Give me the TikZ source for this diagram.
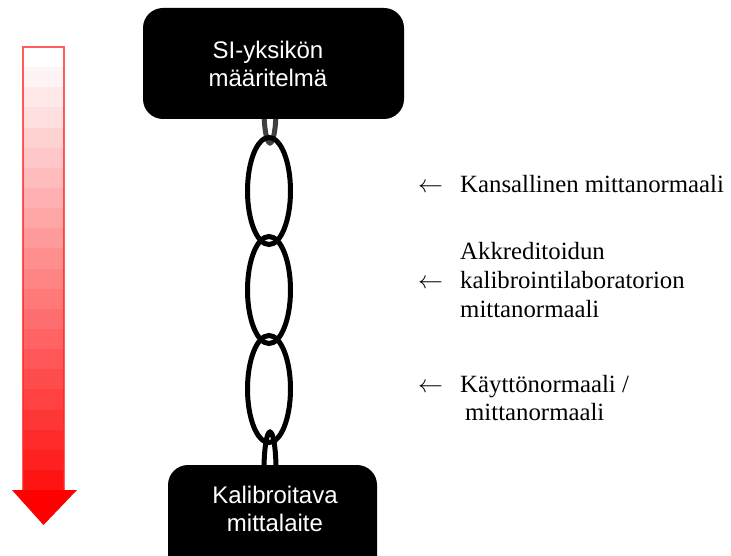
\documentclass[tikz,border=0pt]{standalone}
\usepackage{fontspec}
\setmainfont{Liberation Serif}
\newfontfamily\arialf{Liberation Sans}
\begin{document}
\begin{tikzpicture}[x=1pt,y=-1pt,
  chainlink/.style={draw=black,line width=5pt},
  blackbox/.style={fill=black,rounded corners=20pt},
  boxtext/.style={font=\arialf\fontsize{24}{27.5}\selectfont,text=white,align=center,inner sep=0pt},
  rtext/.style={font=\fontsize{24.8}{28}\selectfont,anchor=base west,inner sep=0pt}]
\clip (0,0) rectangle (731,556);
\fill[white] (0,0) rectangle (731,556);
% gradient arrow
\foreach \k [evaluate=\k as \c using 92*\k/21] in {0,...,21} {
  \fill[red!\c!white] (23,{47+20.14*\k}) rectangle (64,{47+20.14*(\k+1)});
}
\draw[red!85,line width=2.5pt,opacity=0.75] (23,490) -- (23,47) -- (64,47) -- (64,490);
\fill[red] (12,490) -- (77,490) -- (43.5,525) -- cycle;
% small hidden links
\draw[chainlink,draw=black!75] (270,110) ellipse [x radius=6, y radius=33];
\draw[chainlink] (270,470) ellipse [x radius=6, y radius=38];
% chain
\draw[chainlink] (269,191) ellipse [x radius=21.5, y radius=53.5];
\draw[chainlink] (269,290) ellipse [x radius=21.5, y radius=53.5];
\draw[chainlink] (269,389) ellipse [x radius=21.5, y radius=53.5];
% boxes
\node[blackbox,minimum width=261pt,minimum height=111pt,inner sep=0pt] (si) at (273.5,63.5) {};
\node[boxtext] (sitext) at (268,64) {SI-yksikön\\määritelmä};
\node[blackbox,minimum width=209pt,minimum height=115pt,inner sep=0pt] (kal) at (272.5,522.5) {};
\node[boxtext] (kaltext) at (275,509) {Kalibroitava\\mittalaite};
% labels
\node[rtext] (a1) at (418,193) {$\leftarrow$};
\node[rtext] (t1) at (460,193) {Kansallinen mittanormaali};
\node[rtext] (t2a) at (460,260) {Akkreditoidun};
\node[rtext] (a2) at (418,288) {$\leftarrow$};
\node[rtext] (t2b) at (460,288) {kalibrointilaboratorion};
\node[rtext] (t2c) at (460,317) {mittanormaali};
\node[rtext] (a3) at (418,392) {$\leftarrow$};
\node[rtext] (t3a) at (460,392) {Käyttönormaali /};
\node[rtext] (t3b) at (465,420) {mittanormaali};
\end{tikzpicture}
\end{document}
